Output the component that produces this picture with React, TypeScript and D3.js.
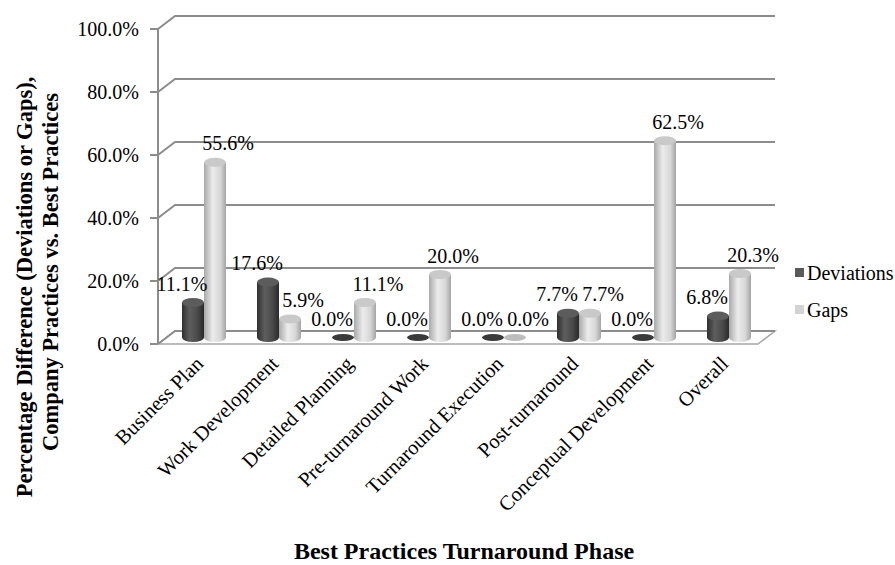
import React from "react";
import * as d3 from "d3";

const phases = [
  "Business Plan",
  "Work Development",
  "Detailed Planning",
  "Pre-turnaround Work",
  "Turnaround Execution",
  "Post-turnaround",
  "Conceptual Development",
  "Overall",
];
const deviations = [0.111, 0.176, 0, 0, 0, 0.077, 0, 0.068];
const gaps = [0.556, 0.059, 0.111, 0.2, 0, 0.077, 0.625, 0.203];
const yTicks = [0, 0.2, 0.4, 0.6, 0.8, 1.0];

const W = 895;
const H = 565;
const left = 158;
const right = 758;
const dx = 17;
const dy = -13;
const font = "'Liberation Serif', 'Times New Roman', serif";

function Cylinder({ x, w, y0, y1, grad, top, base }: any) {
  const rx = w / 2;
  const ry = 4.5;
  const cx = x + rx;
  if (y0 - y1 < 0.5) {
    return <ellipse cx={cx} cy={y0} rx={rx} ry={ry - 1} fill={base} />;
  }
  return (
    <g>
      <path
        d={`M${x},${y1} L${x},${y0} A${rx},${ry} 0 0 0 ${x + w},${y0} L${x + w},${y1} Z`}
        fill={`url(#${grad})`}
      />
      <ellipse cx={cx} cy={y1} rx={rx} ry={ry} fill={top} />
    </g>
  );
}

export default function App() {
  const y = d3.scaleLinear().domain([0, 1]).range([344, 29]);
  const x = d3.scaleBand<string>().domain(phases).range([left, right]).padding(0);
  const fmt = d3.format(".1%");
  const bw = 22;

  return (
    <svg width={W} height={H} style={{ position: "absolute", left: 0, top: 0 }}>
      <defs>
        <linearGradient id="gDark" x1="0" x2="1" y1="0" y2="0">
          <stop offset="0" stopColor="#2f2f2f" />
          <stop offset="0.35" stopColor="#5e5e5e" />
          <stop offset="0.7" stopColor="#4a4a4a" />
          <stop offset="1" stopColor="#2a2a2a" />
        </linearGradient>
        <linearGradient id="gLight" x1="0" x2="1" y1="0" y2="0">
          <stop offset="0" stopColor="#a9a9a9" />
          <stop offset="0.4" stopColor="#ececec" />
          <stop offset="0.75" stopColor="#d6d6d6" />
          <stop offset="1" stopColor="#a4a4a4" />
        </linearGradient>
      </defs>
      <rect width={W} height={H} fill="#fff" />

      {/* floor */}
      <path
        d={`M${left},${y(0)} L${right},${y(0)} L${right + dx},${y(0) + dy} L${left + dx},${y(0) + dy} Z`}
        fill="#fff"
        stroke="#a6a6a6"
        strokeWidth={1.5}
      />

      {/* gridlines on back wall + side */}
      {yTicks.map((t) => (
        <g key={t}>
          <path
            d={`M${left},${y(t)} L${left + dx},${y(t) + dy} L${right + dx},${y(t) + dy}`}
            fill="none"
            stroke="#8c8c8c"
            strokeWidth={2}
          />
          <line x1={left - 8} x2={left} y1={y(t)} y2={y(t)} stroke="#8c8c8c" strokeWidth={2} />
          <text
            x={139}
            y={y(t)}
            dy="0.35em"
            textAnchor="end"
            fontFamily={font}
            fontSize={20}
          >
            {fmt(t)}
          </text>
        </g>
      ))}
      <line x1={left} x2={left} y1={y(1)} y2={y(0)} stroke="#8c8c8c" strokeWidth={2} />

      {/* bars */}
      {phases.map((p, i) => {
        const c = (x(p) as number) + x.bandwidth() / 2 + dx / 2;
        const base = y(0) + dy / 2;
        const dTop = y(deviations[i]) + dy / 2;
        const gTop = y(gaps[i]) + dy / 2;
        return (
          <g key={p}>
            <Cylinder x={c - bw} w={bw} y0={base} y1={dTop} grad="gDark" top="#5c5c5c" base="#3a3a3a" />
            <Cylinder x={c} w={bw} y0={base} y1={gTop} grad="gLight" top="#c9c9c9" base="#bdbdbd" />
            <text x={c - bw / 2 - 11} y={dTop - 12} textAnchor="middle" fontFamily={font} fontSize={20}>
              {fmt(deviations[i])}
            </text>
            <text x={c + bw / 2 + 13} y={gTop - 12} textAnchor="middle" fontFamily={font} fontSize={20}>
              {fmt(gaps[i])}
            </text>
            <text
              transform={`translate(${(x(p) as number) + x.bandwidth() / 2 + 9},${365}) rotate(-45)`}
              textAnchor="end"
              fontFamily={font}
              fontSize={20.5}
            >
              {p}
            </text>
          </g>
        );
      })}

      {/* legend */}
      <rect x={795} y={268} width={9} height={9} fill="#595959" />
      <text x={807} y={280} fontFamily={font} fontSize={20}>Deviations</text>
      <rect x={795} y={305} width={9} height={9} fill="#d3d3d3" />
      <text x={807} y={317} fontFamily={font} fontSize={20}>Gaps</text>

      {/* axis titles */}
      <text x={464} y={559} textAnchor="middle" fontFamily={font} fontSize={24} fontWeight="bold">
        Best Practices Turnaround Phase
      </text>
      <text transform="translate(32,287) rotate(-90)" textAnchor="middle" fontFamily={font} fontSize={22.5} fontWeight="bold">
        Percentage Difference (Deviations or Gaps),
      </text>
      <text transform="translate(58,272) rotate(-90)" textAnchor="middle" fontFamily={font} fontSize={22.5} fontWeight="bold">
        Company Practices vs. Best Practices
      </text>
    </svg>
  );
}
